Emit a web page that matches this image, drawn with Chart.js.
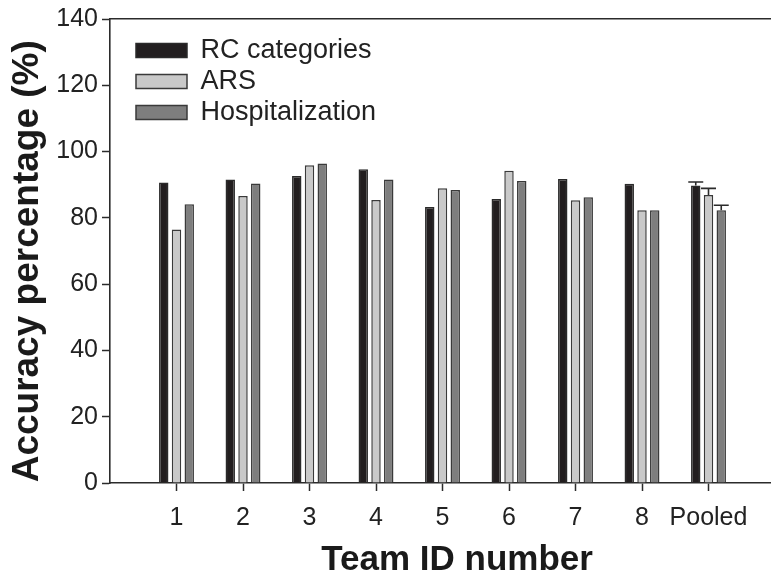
<!DOCTYPE html>
<html>
<head>
<meta charset="utf-8">
<script src="https://cdn.jsdelivr.net/npm/chart.js@4/dist/chart.umd.min.js"></script>
<style>
  html, body { margin: 0; padding: 0; background: #ffffff; overflow: hidden; }
  #wrap { width: 771px; height: 581px; overflow: hidden; }
</style>
</head>
<body>
<div id="wrap"><canvas id="chart" width="775" height="581"></canvas></div>
<script>
// Team identifiers along the x axis
const teams = ['1', '2', '3', '4', '5', '6', '7', '8', 'Pooled'];

// Accuracy percentage (%) per team
const rcCategories    = [90.7, 91.6, 92.6, 94.7, 83.3, 85.7, 91.7, 90.3, 89.8];
const ars             = [76.5, 86.6, 95.9, 85.4, 88.9, 94.2, 85.3, 82.3, 86.9];
const hospitalization = [84.1, 90.4, 96.4, 91.6, 88.4, 91.1, 86.2, 82.3, 82.3];

// Upper error (only the pooled group has one)
const rcErr   = [null, null, null, null, null, null, null, null, 1.0];
const arsErr  = [null, null, null, null, null, null, null, null, 2.0];
const hospErr = [null, null, null, null, null, null, null, null, 1.5];

// Y axis ticks
const yTicks = [0, 20, 40, 60, 80, 100, 120, 140];

const FONT = "'Liberation Sans', Arial, Helvetica, sans-serif";
const INK = '#2b2b2b';

// blank slots at both ends leave a gap between the axes and the first/last group
const pad = v => [null, ...v, null];
const labels = ['', ...teams, ''];

const errorBars = {
  id: 'errorBars',
  afterDatasetsDraw(chart) {
    const ctx = chart.ctx;
    const y = chart.scales.y;
    chart.data.datasets.forEach((ds, i) => {
      const errs = ds.errUp;
      if (!errs) return;
      const meta = chart.getDatasetMeta(i);
      errs.forEach((e, j) => {
        if (e == null) return;
        const el = meta.data[j + 1];
        const v = ds.data[j + 1];
        const top = y.getPixelForValue(v + e);
        ctx.save();
        ctx.strokeStyle = INK;
        ctx.lineWidth = 1.6;
        ctx.beginPath();
        ctx.moveTo(el.x, el.y);
        ctx.lineTo(el.x, top);
        ctx.moveTo(el.x - 7.5, top);
        ctx.lineTo(el.x + 7.5, top);
        ctx.stroke();
        ctx.restore();
      });
    });
  }
};

// nudge the in-plot legend away from the y axis
const legendShift = {
  id: 'legendShift',
  afterLayout(chart) {
    const lg = chart.legend;
    if (lg) { lg.left += 22; lg.right += 22; lg.top += 3; lg.bottom += 3; }
  }
};

new Chart(document.getElementById('chart'), {
  type: 'bar',
  data: {
    labels: labels,
    datasets: [
      { label: 'RC categories', data: pad(rcCategories), errUp: rcErr,
        backgroundColor: '#221e1f', borderColor: '#2a2a2a', borderWidth: 1.5 },
      { label: 'ARS', data: pad(ars), errUp: arsErr,
        backgroundColor: '#c9c9c9', borderColor: '#3a3a3a', borderWidth: 1.5 },
      { label: 'Hospitalization', data: pad(hospitalization), errUp: hospErr,
        backgroundColor: '#7e7e7e', borderColor: '#3a3a3a', borderWidth: 1.5 }
    ]
  },
  options: {
    responsive: false,
    animation: false,
    events: [],
    layout: { padding: { left: 0, right: 0, top: 19, bottom: 0 } },
    datasets: { bar: { categoryPercentage: 0.575, barPercentage: 0.74, borderSkipped: 'bottom' } },
    plugins: {
      tooltip: { enabled: false },
      legend: {
        position: 'chartArea',
        align: 'start',
        title: { display: true, text: '', font: { size: 10, lineHeight: 1 }, padding: { top: 16, bottom: 4 } },
        labels: {
          boxWidth: 51,
          boxHeight: 14,
          padding: 4,
          color: '#222',
          font: { family: FONT, size: 27 }
        }
      }
    },
    scales: {
      x: {
        type: 'category',
        offset: false,
        grid: {
          offset: false,
          drawOnChartArea: false,
          drawTicks: true,
          tickLength: 8,
          tickWidth: 1.5,
          color: c => (c.tick && c.tick.label === '') ? 'rgba(0,0,0,0)' : INK
        },
        border: { display: true, color: INK, width: 1.6 },
        ticks: {
          color: '#222',
          font: { family: FONT, size: 25 },
          padding: 12,
          autoSkip: false,
          maxRotation: 0
        },
        title: {
          display: true,
          text: '   Team ID number',
          color: '#1a1a1a',
          font: { family: FONT, size: 35, weight: 'bold' },
          padding: { top: 0, bottom: 0 }
        },
        afterFit(s) { s.height = 98; s.paddingRight = 0; s.paddingLeft = 0; }
      },
      xTop: {
        type: 'category',
        position: 'top',
        offset: false,
        grid: { offset: false, drawOnChartArea: false, drawTicks: false },
        border: { display: true, color: INK, width: 1.6 },
        ticks: { display: false },
        afterFit(s) { s.height = 0; s.paddingRight = 0; s.paddingLeft = 0; }
      },
      y: {
        min: 0,
        max: 140,
        afterBuildTicks(s) { s.ticks = yTicks.map(v => ({ value: v })); },
        grid: {
          drawOnChartArea: false,
          drawTicks: true,
          tickLength: 8,
          tickWidth: 1.5,
          color: INK
        },
        border: { display: true, color: INK, width: 1.6 },
        ticks: {
          color: '#222',
          font: { family: FONT, size: 25 },
          padding: 4
        },
        title: {
          display: true,
          text: 'Accuracy percentage (%)  ',
          color: '#1a1a1a',
          font: { family: FONT, size: 37, weight: 'bold' },
          padding: { top: 6, bottom: 0 }
        },
        afterFit(s) { s.width = 110; }
      }
    }
  },
  plugins: [errorBars, legendShift]
});
</script>
</body>
</html>
